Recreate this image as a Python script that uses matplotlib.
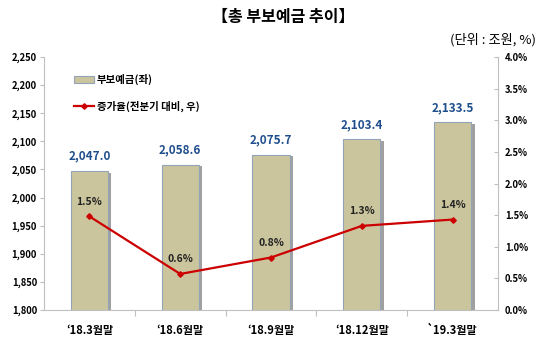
import matplotlib
matplotlib.use("Agg")
import matplotlib.pyplot as plt
import matplotlib.patheffects as pe
from matplotlib.ticker import FuncFormatter, MultipleLocator
from matplotlib.lines import Line2D
from matplotlib.patches import Patch

plt.rcParams['font.family'] = ['Noto Sans CJK KR', 'DejaVu Sans']

# Data
categories = ["‘18.3월말", "‘18.6월말", "‘18.9월말", "‘18.12월말", "`19.3월말"]
deposits = [2047.0, 2058.6, 2075.7, 2103.4, 2133.5]          # 조원 (left axis)
growth = [1.48, 0.57, 0.83, 1.33, 1.43]                      # % vs. previous quarter (right axis)

bar_color = "#CBC59D"
bar_edge = "#93A3B8"
label_blue = "#1F4E8C"
line_red = "#CC0000"

fig = plt.figure(figsize=(5.4, 3.39), dpi=100)
ax = fig.add_axes([44/540, 1 - 310/339, (498-44)/540, (310-57)/339])
ax2 = ax.twinx()

x = list(range(len(categories)))

bars = ax.bar(x, deposits, width=0.41, color=bar_color, edgecolor=bar_edge,
              linewidth=0.8, zorder=2,
              path_effects=[pe.SimplePatchShadow(offset=(2.5, -1), shadow_rgbFace="#808080", alpha=0.75),
                            pe.Normal()])
for xi, v in zip(x, deposits):
    ax.annotate(f"{v:,.1f}", (xi, v), xytext=(0, 6), textcoords="offset points",
                ha="center", va="bottom", fontsize=8.5, fontweight="bold", color=label_blue)

ax.set_xlim(-0.5, len(categories) - 0.5)
ax.set_ylim(1800, 2250)
ax.yaxis.set_major_locator(MultipleLocator(50))
ax.yaxis.set_major_formatter(FuncFormatter(lambda v, p: f"{v:,.0f}"))

ax2.plot(x, growth, color=line_red, linewidth=1.6, marker="D", markersize=2.8, zorder=3)
for xi, g in zip(x, growth):
    ax2.annotate(f"{g:.1f}%", (xi, g), xytext=(0, 7), textcoords="offset points",
                 ha="center", va="bottom", fontsize=7.5, fontweight="bold", color="#222222")
ax2.set_ylim(0, 4.0)
ax2.yaxis.set_major_locator(MultipleLocator(0.5))
ax2.yaxis.set_major_formatter(FuncFormatter(lambda v, p: f"{v:.1f}%"))

# Axes styling
for a in (ax, ax2):
    a.spines["top"].set_visible(False)
    a.spines["left"].set_color("#BFBFBF")
    a.spines["right"].set_color("#BFBFBF")
    a.spines["bottom"].set_color("#BFBFBF")
ax.spines["right"].set_visible(False)
ax2.spines["left"].set_visible(False)
ax2.spines["bottom"].set_visible(False)

ax.tick_params(axis="y", labelsize=6.8, length=3, color="#BFBFBF", pad=2)
ax2.tick_params(axis="y", labelsize=6.8, length=3, color="#BFBFBF", direction="in", pad=5)
for lbl in ax.get_yticklabels() + ax2.get_yticklabels():
    lbl.set_fontweight("bold")

ax.set_xticks([i + 0.5 for i in x[:-1]], minor=False)
ax.set_xticklabels([])
ax.tick_params(axis="x", length=4, color="#BFBFBF")
ax.set_xticks(x, minor=True)
ax.set_xticklabels(categories, minor=True, fontsize=8, fontweight="bold")
ax.tick_params(axis="x", which="minor", length=0, pad=10)

# Legend
handles = [Patch(facecolor=bar_color, edgecolor=bar_edge, linewidth=0.8),
           Line2D([0], [0], color=line_red, linewidth=1.6, marker="D", markersize=2.8)]
ax2.legend(handles, ["부보예금(좌)", "증가율(전분기 대비, 우)"], loc="upper left",
           bbox_to_anchor=(0.045, 0.97), frameon=False, labelspacing=1.5,
           handlelength=1.9, handletextpad=0.3,
           prop={"size": 7.5, "weight": "bold"})

fig.text(283/540, 1 - 17/339, "【총 부보예금 추이】", ha="center", va="center",
         fontsize=11.5, fontweight="bold")
fig.text(536/540, 1 - 40/339, "(단위 : 조원, %)", ha="right", va="center", fontsize=9.5)

fig.savefig("out.png", dpi=100)
